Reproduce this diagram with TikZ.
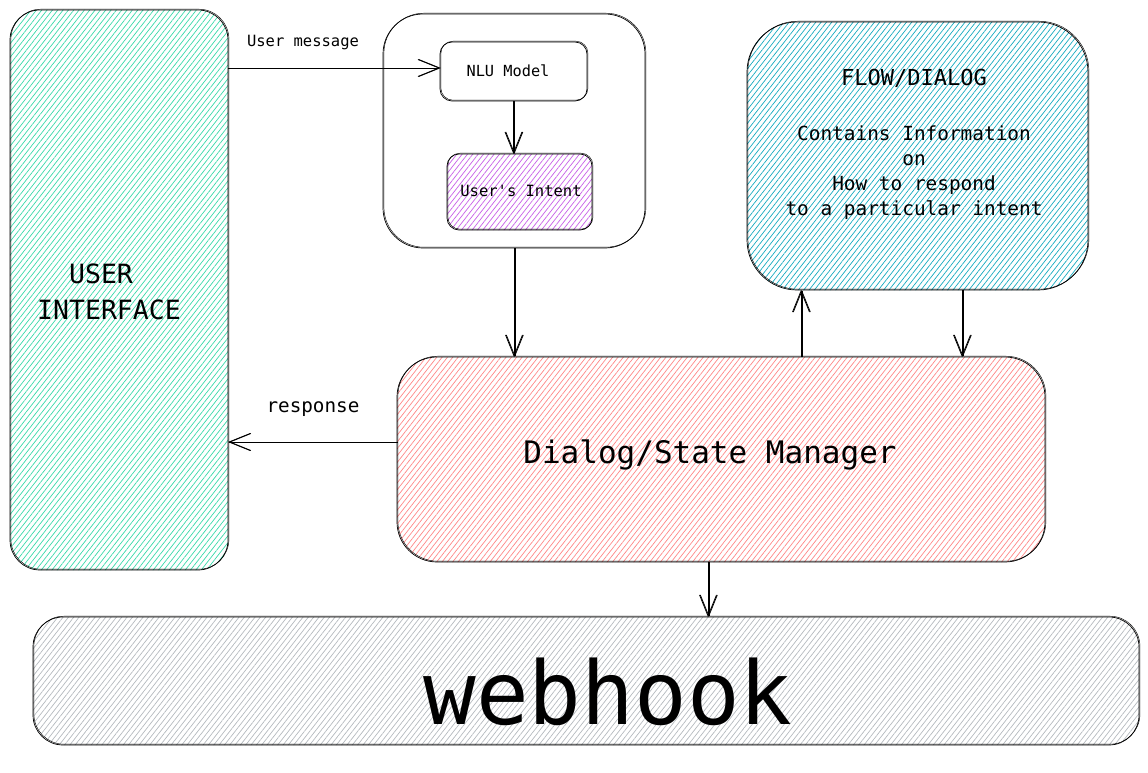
\documentclass[tikz,border=0pt]{standalone}
\usepackage{fontspec}
\setmonofont{DejaVu Sans Mono}
\usetikzlibrary{arrows.meta,patterns.meta,calc}
\definecolor{uigreen}{HTML}{38D9A9}
\definecolor{intentpurple}{HTML}{C860E8}
\definecolor{flowcyan}{HTML}{15AABF}
\definecolor{dmred}{HTML}{FF8787}
\definecolor{whgray}{HTML}{B4B9BE}
\begin{document}
\begin{tikzpicture}[x=1pt,y=-1pt,
  box/.style={rectangle,draw=black,line width=0.7pt,inner sep=0pt,outer sep=0pt,
    postaction={draw=black,line width=0.45pt,transform canvas={xshift=0.9pt,yshift=0.8pt}}},
  hatch/.style={pattern={Lines[angle=52,distance=4.2pt,line width=0.7pt]},pattern color=#1},
  lbl/.style={font=\ttfamily,inner sep=0pt,outer sep=0pt,text=black},
  arr/.style={-{Straight Barb[length=21pt,width=17pt,line width=0.8pt]},line width=0.8pt,draw=black,
    postaction={draw=black,line width=0.5pt,transform canvas={xshift=0.8pt}}}
]
\useasboundingbox (0,0) rectangle (1148,773);
% boxes
\node[box,hatch=uigreen,rounded corners=30pt,minimum width=218pt,minimum height=560pt] (ui) at (119,290) {};
\node[box,fill=white,rounded corners=40pt,minimum width=262pt,minimum height=234pt] (nlubox) at (514,131) {};
\node[box,fill=white,rounded corners=12pt,minimum width=147pt,minimum height=59pt] (nlu) at (513.5,71.5) {};
\node[box,hatch=intentpurple,rounded corners=12pt,minimum width=145pt,minimum height=76pt] (intent) at (519.5,192) {};
\node[box,hatch=flowcyan,rounded corners=50pt,minimum width=341pt,minimum height=268pt] (flow) at (917.5,156) {};
\node[box,hatch=dmred,rounded corners=40pt,minimum width=648pt,minimum height=205pt] (dm) at (721,459.5) {};
\node[box,hatch=whgray,rounded corners=30pt,minimum width=1106pt,minimum height=128pt] (wh) at (586,681) {};
% texts
\node[lbl,align=center,font=\ttfamily\fontsize{26.5}{36}\selectfont] (uitxt) at (109,292) {USER\phantom{X}\\INTERFACE};
\node[lbl,font=\ttfamily\fontsize{15.3}{18}\selectfont] (nlutxt) at (508,71) {NLU Model};
\node[lbl,font=\ttfamily\fontsize{15.5}{18}\selectfont] (intenttxt) at (521,191) {User's Intent};
\node[lbl,align=center,font=\ttfamily\fontsize{19.4}{25}\selectfont] (flowtxt) at (914,144) {{\fontsize{22}{25}\selectfont FLOW/DIALOG}\\[30pt]Contains Information\\on\\How to respond\\to a particular intent};
\node[lbl,font=\ttfamily\fontsize{31}{36}\selectfont] (dmtxt) at (710,455) {Dialog/State Manager};
\node[lbl,font=\ttfamily\fontsize{87.6}{96}\selectfont] (whtxt) at (608,692) {webhook};
\node[lbl,font=\ttfamily\fontsize{15.5}{18}\selectfont] (umsg) at (303,43) {User message};
\node[lbl,font=\ttfamily\fontsize{19.3}{22}\selectfont] (resp) at (313,409) {response};
% connectors
\coordinate (um) at (0,68);
\coordinate (up) at (801,0);
\coordinate (dn) at (962,0);
\coordinate (rs) at (0,442);
\coordinate (wk) at (708,0);
\draw[arr] (ui.east |- um) -- (nlu.west |- um);
\draw[arr] (nlu.south) -- (intent.north -| nlu.south);
\draw[arr] (nlubox.south) -- (dm.north -| nlubox.south);
\draw[arr] (dm.north -| up) -- (flow.south -| up);
\draw[arr] (flow.south -| dn) -- (dm.north -| dn);
\draw[arr] (dm.west |- rs) -- (ui.east |- rs);
\draw[arr] (dm.south -| wk) -- (wh.north -| wk);
\end{tikzpicture}
\end{document}
